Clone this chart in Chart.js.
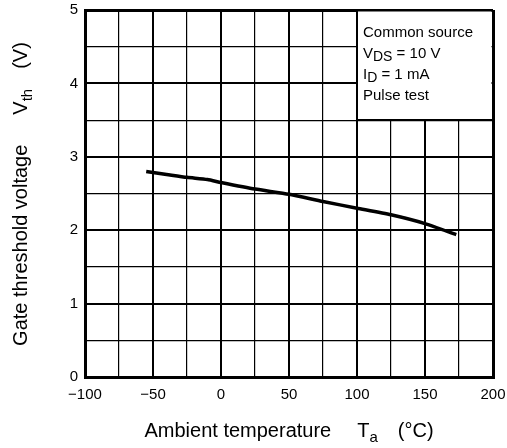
<!DOCTYPE html>
<html>
<head>
<title>Vth vs Ta</title>
<script src="https://cdn.jsdelivr.net/npm/chart.js@4.4.1/dist/chart.umd.min.js"></script>
<style>
body { margin: 0; background: #fff; }
</style>
</head>
<body>
<div style="width:507px;height:448px;">
<canvas id="vth" width="507" height="448"></canvas>
</div>

<script>
// curve
var temps = [-55, -40, -25, -10, 0, 25, 50, 75, 100, 125, 150, 173];
var vth   = [2.80, 2.76, 2.72, 2.69, 2.65, 2.56, 2.49, 2.39, 2.30, 2.21, 2.09, 1.94];

var xMin = -100, xMax = 200, xStep = 25;
var yMin = 0, yMax = 5, yStep = 0.5;

var noteLines = [
	[['Common source', 0]],
	[['V', 0], ['DS', 1], [' = 10 V', 0]],
	[['I', 0], ['D', 1], [' = 1 mA', 0]],
	[['Pulse test', 0]]
];

var FONT = '"Liberation Sans", Arial, Helvetica, sans-serif';

function gridWidth(v, edgeA, edgeB, major) {
	if (v == edgeA || v == edgeB) return 3;
	if (Math.abs(v / major - Math.round(v / major)) < 1e-6) return 2;
	return 1.2;
}

// draws pieces of text one after the other, subscripts smaller and lower
function richText(ctx, parts, x, y) {
	parts.forEach(function (p) {
		if (p.gap) { x += p.gap; return; }
		ctx.font = p.size + 'px ' + FONT;
		ctx.fillText(p.text, x, y + (p.dy || 0));
		x += ctx.measureText(p.text).width;
	});
	return x;
}
function richWidth(ctx, parts) {
	var w = 0;
	parts.forEach(function (p) {
		if (p.gap) { w += p.gap; return; }
		ctx.font = p.size + 'px ' + FONT;
		w += ctx.measureText(p.text).width;
	});
	return w;
}

var xTitle = [
	{text: 'Ambient temperature', size: 20},
	{gap: 26},
	{text: 'T', size: 20},
	{text: 'a', size: 15, dy: 5},
	{gap: 20},
	{text: '(°C)', size: 20}
];
var yTitle = [
	{text: 'Gate threshold voltage', size: 20},
	{gap: 30},
	{text: 'V', size: 20},
	{text: 'th', size: 15, dy: 5},
	{gap: 20},
	{text: '(V)', size: 20}
];

var extras = {
	id: 'extras',
	afterDatasetsDraw: function (chart) {
		var ctx = chart.ctx, xs = chart.scales.x, ys = chart.scales.y;
		var l = xs.getPixelForValue(100), r = xs.getPixelForValue(xMax);
		var t = ys.getPixelForValue(yMax), b = ys.getPixelForValue(3.5);
		ctx.save();
		ctx.fillStyle = '#fff';
		ctx.fillRect(l + 1, t + 1.5, r - l - 2.5, b - t - 2);
		ctx.strokeStyle = '#000';
		ctx.lineWidth = 2;
		ctx.beginPath();
		ctx.moveTo(l, b); ctx.lineTo(r, b);
		ctx.stroke();

		ctx.fillStyle = '#000';
		ctx.textBaseline = 'alphabetic';
		noteLines.forEach(function (line, i) {
			var parts = line.map(function (s) {
				return s[1] ? {text: s[0], size: 14, dy: 3} : {text: s[0], size: 15};
			});
			richText(ctx, parts, l + 6, t + 27 + i * 21);
		});

		// axis titles
		var cx = (chart.chartArea.left + chart.chartArea.right) / 2;
		richText(ctx, xTitle, cx - richWidth(ctx, xTitle) / 2, 437);

		ctx.translate(27, 194);
		ctx.rotate(-Math.PI / 2);
		richText(ctx, yTitle, -richWidth(ctx, yTitle) / 2, 0);
		ctx.restore();
	}
};

var ctx = document.getElementById('vth').getContext('2d');
var chart = new Chart(ctx, {
	type: 'line',
	data: {
		datasets: [{
			data: temps.map(function (t, i) { return {x: t, y: vth[i]}; }),
			borderColor: '#000',
			borderWidth: 3.5,
			pointRadius: 0,
			tension: 0.2,
			fill: false
		}]
	},
	options: {
		responsive: false,
		animation: false,
		layout: {padding: {left: 0, top: 10, right: 14, bottom: 0}},
		plugins: {legend: {display: false}, tooltip: {enabled: false}},
		scales: {
			x: {
				type: 'linear', min: xMin, max: xMax,
				afterFit: function (s) {
					s.height = 71;
					s.paddingLeft = 0; s.paddingRight = 0;
				},
				border: {display: true, color: '#000', width: 3},
				grid: {
					color: '#000', drawTicks: false,
					lineWidth: function (c) { return gridWidth(c.tick.value, xMin, xMax, 50); }
				},
				ticks: {
					stepSize: xStep, padding: 9, maxRotation: 0, autoSkip: false,
					color: '#000', font: {family: FONT, size: 15},
					callback: function (v) {
						if (v % 50 != 0) return '';
						return v < 0 ? '\u2212' + Math.abs(v) : '' + v;
					}
				}
			},
			y: {
				min: yMin, max: yMax,
				afterFit: function (s) {
					s.width = 85;
					s.paddingTop = 0; s.paddingBottom = 0;
				},
				border: {display: true, color: '#000', width: 3},
				grid: {
					color: '#000', drawTicks: false,
					lineWidth: function (c) { return gridWidth(c.tick.value, yMin, yMax, 1); }
				},
				ticks: {
					stepSize: yStep, padding: 7, autoSkip: false,
					color: '#000', font: {family: FONT, size: 15},
					callback: function (v) { return Number.isInteger(v) ? '' + v : ''; }
				}
			}
		}
	},
	plugins: [extras]
});
</script>
</body>
</html>
